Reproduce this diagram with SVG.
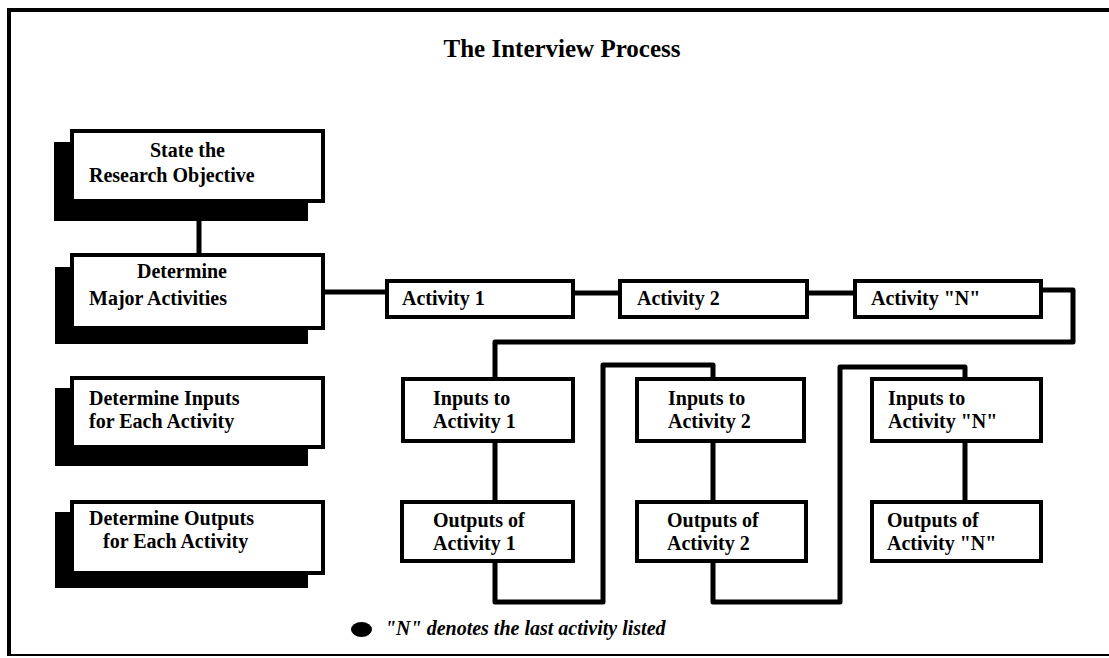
<svg xmlns="http://www.w3.org/2000/svg" width="1109" height="658" viewBox="0 0 1109 658">
<style>
.box{fill:#fff;stroke:#000;stroke-width:4}
.sh{fill:#000}
.t{font-family:"Liberation Serif","Times New Roman",serif;font-weight:bold;font-size:20px;fill:#000}
.c{fill:none;stroke:#000;stroke-width:5;stroke-linejoin:round}
</style>
<rect x="0" y="0" width="1109" height="658" fill="#fff"/>
<g id="frame">
<line x1="9" y1="10" x2="1109" y2="10" stroke="#000" stroke-width="4"/>
<line x1="9" y1="8" x2="9" y2="656" stroke="#000" stroke-width="4"/>
<line x1="7" y1="655" x2="1109" y2="655" stroke="#000" stroke-width="2"/>
</g>
<text id="title" x="562" y="57" text-anchor="middle" class="t" style="font-size:25px">The Interview Process</text>
<g id="connectors">
<line class="c" x1="199" y1="221" x2="199" y2="253"/>
<line class="c" x1="325" y1="292" x2="385" y2="292"/>
<line class="c" x1="575" y1="293" x2="618" y2="293"/>
<line class="c" x1="809" y1="293" x2="853" y2="293"/>
<polyline class="c" points="1043,290 1073,290 1073,342 495,342 495,377"/>
<line class="c" x1="495" y1="443" x2="495" y2="500"/>
<polyline class="c" points="495,563 495,602 603,602 603,365 713,365 713,377"/>
<line class="c" x1="713" y1="443" x2="713" y2="500"/>
<polyline class="c" points="713,563 713,602 840,602 840,367 965,367 965,377"/>
<line class="c" x1="965" y1="443" x2="965" y2="500"/>
</g>
<g id="state">
<rect class="sh" x="54" y="142" width="254" height="79"/>
<rect class="box" x="72" y="131" width="251" height="70"/>
<text class="t" x="150" y="157">State the</text>
<text class="t" x="89" y="182">Research Objective</text>
</g>
<g id="major">
<rect class="sh" x="55" y="267" width="253" height="77"/>
<rect class="box" x="72" y="255" width="251" height="73"/>
<text class="t" x="137" y="278">Determine</text>
<text class="t" x="89" y="305">Major Activities</text>
</g>
<g id="det-inputs">
<rect class="sh" x="55" y="388" width="253" height="78"/>
<rect class="box" x="72" y="378" width="251" height="69"/>
<text class="t" x="89" y="405">Determine Inputs</text>
<text class="t" x="89" y="428">for Each Activity</text>
</g>
<g id="det-outputs">
<rect class="sh" x="55" y="512" width="253" height="76"/>
<rect class="box" x="72" y="502" width="251" height="71"/>
<text class="t" x="89" y="525">Determine Outputs</text>
<text class="t" x="103" y="548">for Each Activity</text>
</g>
<g id="act1">
<rect class="box" x="387" y="281" width="186" height="36"/>
<text class="t" x="402" y="305">Activity 1</text>
</g>
<g id="act2">
<rect class="box" x="620" y="281" width="187" height="36"/>
<text class="t" x="637" y="305">Activity 2</text>
</g>
<g id="actN">
<rect class="box" x="855" y="281" width="186" height="36"/>
<text class="t" x="871" y="305">Activity "N"</text>
</g>
<g id="in1">
<rect class="box" x="403" y="379" width="170" height="62"/>
<text class="t" x="433" y="405">Inputs to</text>
<text class="t" x="433" y="428">Activity 1</text>
</g>
<g id="in2">
<rect class="box" x="637" y="379" width="167" height="62"/>
<text class="t" x="668" y="405">Inputs to</text>
<text class="t" x="668" y="428">Activity 2</text>
</g>
<g id="inN">
<rect class="box" x="872" y="379" width="169" height="62"/>
<text class="t" x="888" y="405">Inputs to</text>
<text class="t" x="888" y="428">Activity "N"</text>
</g>
<g id="out1">
<rect class="box" x="402" y="502" width="171" height="59"/>
<text class="t" x="433" y="527">Outputs of</text>
<text class="t" x="433" y="550">Activity 1</text>
</g>
<g id="out2">
<rect class="box" x="637" y="502" width="169" height="59"/>
<text class="t" x="667" y="527">Outputs of</text>
<text class="t" x="667" y="550">Activity 2</text>
</g>
<g id="outN">
<rect class="box" x="872" y="502" width="169" height="59"/>
<text class="t" x="887" y="527">Outputs of</text>
<text class="t" x="887" y="550">Activity "N"</text>
</g>
<g id="note">
<ellipse cx="361.5" cy="629.5" rx="10.5" ry="7.5" fill="#000"/>
<text class="t" x="385" y="635" style="font-style:italic">"N" denotes the last activity listed</text>
</g>
</svg>
